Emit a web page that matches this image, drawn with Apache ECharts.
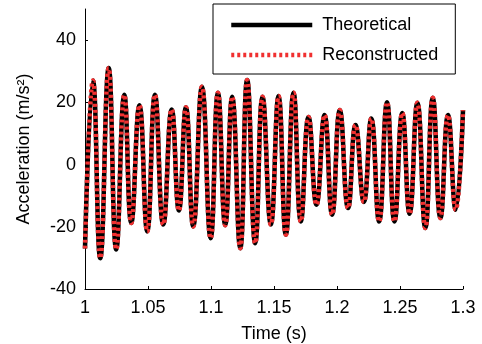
<!DOCTYPE html>
<html><head><meta charset="utf-8">
<script src="https://cdn.jsdelivr.net/npm/echarts@6/dist/echarts.min.js"></script>
<style>html,body{margin:0;padding:0;background:#fff}#c{width:482px;height:344px}</style>
</head><body><div id="c"></div>
<script>
// extrema of the signal (time in s, acceleration in m/s^2)
const times = [1.0000,1.0063,1.0121,1.0188,1.0248,1.0312,1.0367,1.0432,1.0494,1.0555,1.0621,1.0688,1.0745,1.0801,1.0859,1.0928,1.0997,1.1055,1.1113,1.1168,1.1232,1.1287,1.1351,1.1409,1.1475,1.1536,1.1594,1.1655,1.1713,1.1774,1.1837,1.1901,1.1961,1.2022,1.2088,1.2147,1.2213,1.2272,1.2334,1.2397,1.2456,1.2518,1.2576,1.2638,1.2701,1.2760,1.2821,1.2881,1.2942,1.3000];
const theoretical = [-27.0,27.0,-30.1,31.0,-27.3,22.4,-18.8,19.1,-21.5,22.4,-19.3,17.7,-14.8,18.4,-19.9,25.0,-23.7,23.1,-19.5,21.8,-26.9,27.2,-25.3,21.8,-19.3,22.0,-22.6,23.1,-18.3,15.3,-12.9,15.9,-16.1,17.5,-14.0,12.7,-12.0,14.8,-18.3,20.0,-18.3,16.6,-15.8,19.9,-20.4,21.5,-17.2,15.9,-14.5,17.5];
const reconstructed = [-27.0,27.0,-30.1,31.0,-27.3,22.4,-18.8,19.1,-21.5,22.4,-19.3,17.7,-14.8,18.4,-19.9,25.0,-23.7,23.1,-19.5,21.8,-26.9,27.2,-25.3,21.8,-19.3,22.0,-22.6,23.1,-18.3,15.3,-12.9,15.9,-16.1,17.5,-14.0,12.7,-12.0,14.8,-18.3,20.0,-18.3,16.6,-15.8,19.9,-20.4,21.5,-17.2,15.9,-14.5,17.5];
const xTicks = [1, 1.05, 1.1, 1.15, 1.2, 1.25, 1.3];
const yTicks = [-40, -20, 0, 20, 40];
const seriesNames = ['Theoretical', 'Reconstructed'];

const FONT = 'Liberation Sans, Arial, sans-serif';
const FS = 18;
const chart = echarts.init(document.getElementById('c'), null, {renderer: 'canvas'});
const toPairs = v => times.map((t, i) => [t, v[i]]);
chart.setOption({
  animation: false,
  backgroundColor: '#fff',
  textStyle: {fontFamily: FONT, color: '#000'},
  grid: {left: 85, right: 19, top: 9, bottom: 55, containLabel: false, outerBoundsMode: 'none'},
  legend: {
    orient: 'vertical', left: 213, top: 4,
    padding: [12, 17, 10, 16],
    borderColor: '#000', borderWidth: 1, backgroundColor: '#fff',
    itemWidth: 81, itemHeight: 18, itemGap: 12,
    itemStyle: {opacity: 0},
    lineStyle: {width: 4.5},
    textStyle: {fontFamily: FONT, fontSize: FS, color: '#000', padding: [0, 0, 0, 5]},
    data: seriesNames
  },
  xAxis: {
    type: 'value', min: 1, max: 1.3,
    name: 'Time (s)', nameLocation: 'middle', nameGap: 36,
    nameTextStyle: {fontFamily: FONT, fontSize: FS, color: '#000'},
    axisLine: {onZero: false, lineStyle: {color: '#000', width: 1}},
    axisTick: {inside: true, length: 3, customValues: xTicks, lineStyle: {color: '#000'}},
    axisLabel: {customValues: xTicks, margin: 10, fontSize: FS, color: '#000', fontFamily: FONT,
      formatter: v => String(+v.toFixed(2))},
    splitLine: {show: false}
  },
  yAxis: {
    type: 'value', min: -40, max: 50,
    name: 'Acceleration (m/s²)', nameLocation: 'middle', nameGap: 52,
    nameTextStyle: {fontFamily: FONT, fontSize: FS, color: '#000'},
    axisLine: {show: true, onZero: false, lineStyle: {color: '#000', width: 1}},
    axisTick: {show: true, inside: true, length: 3, customValues: yTicks, lineStyle: {color: '#000'}},
    axisLabel: {customValues: yTicks, margin: 9, fontSize: FS, color: '#000', fontFamily: FONT},
    splitLine: {show: false}
  },
  series: [
    {name: seriesNames[0], type: 'line', data: toPairs(theoretical), smooth: 0.5,
     showSymbol: false, symbol: 'none', color: '#000',
     lineStyle: {color: '#000', width: 4.5}},
    {name: seriesNames[1], type: 'line', data: toPairs(reconstructed), smooth: 0.5,
     showSymbol: false, symbol: 'none', color: '#f03030',
     lineStyle: {color: '#f03030', width: 4.5, type: [3, 3]}}
  ]
});
</script></body></html>
